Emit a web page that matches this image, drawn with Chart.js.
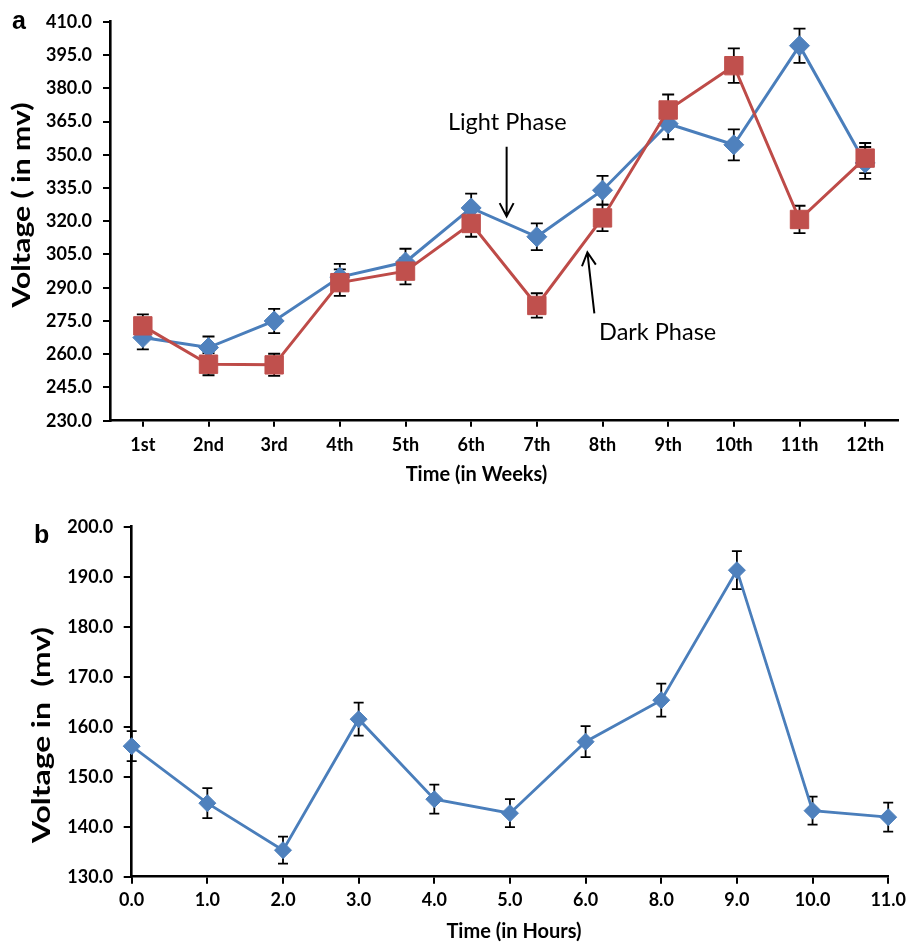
<!DOCTYPE html>
<html>
<head>
<meta charset="utf-8">
<script src="https://cdn.jsdelivr.net/npm/chart.js@4.4.1/dist/chart.umd.min.js"></script>
<style>
  html, body { margin: 0; padding: 0; background: #fff; }
  body { width: 912px; height: 942px; position: relative; overflow: hidden; }
  canvas { position: absolute; left: 0; }
  #c1 { top: 0; }
  #c2 { top: 490px; }
</style>
</head>
<body>
<canvas id="c1" width="912" height="490"></canvas>
<canvas id="c2" width="912" height="452"></canvas>
<script>
// ---------- Data (panel a) ----------
const weeks = ['1st', '2nd', '3rd', '4th', '5th', '6th', '7th', '8th', '9th', '10th', '11th', '12th'];
const lightPhase = [267.5, 263.0, 275.0, 294.8, 301.6, 326.0, 313.0, 334.0, 364.0, 354.5, 399.2, 346.3];
const lightErr   = [5.3, 5.0, 5.5, 6.0, 6.0, 6.5, 6.0, 6.5, 7.0, 7.0, 7.7, 7.2];
const darkPhase  = [272.8, 255.5, 255.2, 292.3, 297.5, 319.0, 282.0, 321.5, 370.2, 390.2, 320.8, 348.5];
const darkErr    = [5.2, 5.0, 5.0, 6.0, 6.0, 6.0, 5.5, 6.0, 7.0, 7.8, 6.2, 6.8];
const weekTicks  = { min: 230, max: 410, step: 15 };

// ---------- Data (panel b) ----------
const hours = ['0.0', '1.0', '2.0', '3.0', '4.0', '5.0', '6.0', '8.0', '9.0', '10.0', '11.0'];
const hourly    = [156.1, 144.7, 135.3, 161.5, 145.5, 142.7, 157.0, 165.3, 191.3, 143.2, 141.9];
const hourlyErr = [3.0, 3.0, 2.7, 3.3, 2.9, 2.8, 3.1, 3.3, 3.8, 2.8, 2.9];
const hourTicks = { min: 130, max: 200, step: 10 };

// ---------- Styling ----------
const BLUE_LINE = '#4A7EBB', BLUE_FILL = '#4F81BD';
const RED_LINE = '#BE4B48', RED_FILL = '#C0504D';
const TICK_FONT = { family: 'Lato', size: 18, weight: 'bold' };

const errorBars = {
  id: 'errorBars',
  beforeDatasetsDraw(chart, args, opts) {
    const ctx = chart.ctx, ys = chart.scales.y;
    const c = opts.cap || 5;
    chart.data.datasets.forEach((ds, di) => {
      if (!ds.errors) return;
      const meta = chart.getDatasetMeta(di);
      ctx.save();
      ctx.strokeStyle = '#000';
      ctx.lineWidth = opts.width || 1.6;
      meta.data.forEach((pt, i) => {
        const v = ds.data[i], e = ds.errors[i];
        const yt = ys.getPixelForValue(v + e), yb = ys.getPixelForValue(v - e);
        ctx.beginPath();
        ctx.moveTo(pt.x, yt); ctx.lineTo(pt.x, yb);
        ctx.moveTo(pt.x - c, yt); ctx.lineTo(pt.x + c, yt);
        ctx.moveTo(pt.x - c, yb); ctx.lineTo(pt.x + c, yb);
        ctx.stroke();
      });
      ctx.restore();
    });
  }
};

function vText(ctx, text, x, cy, font, len) {
  ctx.save();
  ctx.translate(x, cy);
  ctx.rotate(-Math.PI / 2);
  ctx.font = font;
  const w = ctx.measureText(text).width;
  ctx.scale(len / w, 1);
  ctx.textAlign = 'center';
  ctx.textBaseline = 'alphabetic';
  ctx.fillStyle = '#000';
  ctx.fillText(text, 0, 0);
  ctx.restore();
}

function hText(ctx, text, cx, cy, font, align) {
  ctx.save();
  ctx.font = font;
  ctx.textAlign = align || 'center';
  ctx.textBaseline = 'middle';
  ctx.fillStyle = '#000';
  ctx.fillText(text, cx, cy);
  ctx.restore();
}

function arrow(ctx, x1, y1, x2, y2) {
  const ang = Math.atan2(y2 - y1, x2 - x1);
  const hl = 15, ha = Math.PI / 6.5;
  ctx.save();
  ctx.strokeStyle = '#000';
  ctx.lineWidth = 2;
  ctx.beginPath();
  ctx.moveTo(x1, y1); ctx.lineTo(x2, y2);
  ctx.moveTo(x2 - hl * Math.cos(ang - ha), y2 - hl * Math.sin(ang - ha));
  ctx.lineTo(x2, y2);
  ctx.lineTo(x2 - hl * Math.cos(ang + ha), y2 - hl * Math.sin(ang + ha));
  ctx.stroke();
  ctx.restore();
}

function axisCommon(tickLen, tickPad) {
  return {
    grid: { drawOnChartArea: false, drawTicks: true, tickLength: tickLen, color: '#000', lineWidth: 2 },
    border: { display: true, color: '#000', width: 2.6 },
    ticks: { color: '#000', font: TICK_FONT, padding: tickPad, maxRotation: 0, autoSkip: false }
  };
}

// ---------- Panel a ----------
const panelA = {
  id: 'panelA',
  afterDraw(chart) {
    const ctx = chart.ctx, xs = chart.scales.x, ys = chart.scales.y;
    const X = i => xs.getPixelForValue(0) + i * (xs.getPixelForValue(1) - xs.getPixelForValue(0));
    const Y = v => ys.getPixelForValue(v);
    // annotations anchored in data space
    hText(ctx, 'Light Phase', X(5.55), Y(364.4), '23.5px Lato');
    arrow(ctx, X(5.54), Y(353.6), X(5.54), Y(322.2));
    hText(ctx, 'Dark Phase', X(7.84), Y(270.0), '23.5px Lato');
    arrow(ctx, X(6.876), Y(278.4), X(6.77), Y(306.0));
    // titles
    vText(ctx, 'Voltage ( in mv)', 30, 205, 'bold 25px Lato', 205);
    hText(ctx, 'Time (in Weeks)', 476.5, 475, 'bold 20px Lato');
    ctx.save();
    ctx.font = 'bold 25px "Liberation Sans"';
    ctx.fillStyle = '#000';
    ctx.textBaseline = 'alphabetic';
    ctx.fillText('a', 12, 29);
    ctx.restore();
  }
};

const ax1 = axisCommon(6, 8);
const ay1 = axisCommon(7, 11);

new Chart(document.getElementById('c1'), {
  type: 'line',
  data: {
    labels: weeks,
    datasets: [
      {
        label: 'Light Phase', data: lightPhase, errors: lightErr, order: 1,
        borderColor: BLUE_LINE, borderWidth: 3, backgroundColor: BLUE_FILL,
        pointStyle: 'rectRot', pointRadius: 10, pointBackgroundColor: BLUE_FILL,
        pointBorderColor: BLUE_FILL, pointBorderWidth: 1, tension: 0, fill: false
      },
      {
        label: 'Dark Phase', data: darkPhase, errors: darkErr, order: 0,
        borderColor: RED_LINE, borderWidth: 3, backgroundColor: RED_FILL,
        pointStyle: 'rect', pointRadius: 13, pointBackgroundColor: RED_FILL,
        pointBorderColor: RED_FILL, pointBorderWidth: 1, tension: 0, fill: false
      }
    ]
  },
  options: {
    responsive: false, animation: false, devicePixelRatio: 1,
    layout: { padding: { top: 21.7, left: 0, right: 0, bottom: 0 } },
    plugins: { legend: { display: false }, tooltip: { enabled: false }, title: { display: false },
      errorBars: { cap: 6, width: 1.8 } },
    scales: {
      x: {
        type: 'category', offset: true,
        grid: Object.assign({}, ax1.grid, { offset: false }),
        border: ax1.border, ticks: ax1.ticks,
        afterFit: s => { s.height = 69.3; }
      },
      y: {
        min: weekTicks.min, max: weekTicks.max,
        grid: ay1.grid, border: ay1.border,
        ticks: Object.assign({}, ay1.ticks, { stepSize: weekTicks.step, callback: v => Number(v).toFixed(1) }),
        afterFit: s => { s.width = 110; }
      }
    }
  },
  plugins: [errorBars, panelA]
});

// ---------- Panel b ----------
const panelB = {
  id: 'panelB',
  afterDraw(chart) {
    const ctx = chart.ctx;
    vText(ctx, 'Voltage in  (mv)', 50, 245, 'bold 25px Lato', 216);
    hText(ctx, 'Time (in Hours)', 514, 441.7, 'bold 20px Lato');
    ctx.save();
    ctx.font = 'bold 25px "Liberation Sans"';
    ctx.fillStyle = '#000';
    ctx.textBaseline = 'alphabetic';
    ctx.fillText('b', 34, 53);
    ctx.restore();
  }
};

const ax2 = axisCommon(7, 6);
const ay2 = axisCommon(8, 10.4);

new Chart(document.getElementById('c2'), {
  type: 'line',
  data: {
    labels: hours,
    datasets: [
      {
        label: 'Voltage', data: hourly, errors: hourlyErr,
        borderColor: BLUE_LINE, borderWidth: 2.8, backgroundColor: BLUE_FILL,
        pointStyle: 'rectRot', pointRadius: 8.5, pointBackgroundColor: BLUE_FILL,
        pointBorderColor: BLUE_FILL, pointBorderWidth: 1, tension: 0, fill: false
      }
    ]
  },
  options: {
    responsive: false, animation: false, devicePixelRatio: 1,
    layout: { padding: { top: 36.7, left: 0, right: 20.3, bottom: 0 } },
    plugins: { legend: { display: false }, tooltip: { enabled: false }, title: { display: false },
      errorBars: { cap: 5, width: 1.8 } },
    scales: {
      x: {
        type: 'category', offset: false,
        grid: Object.assign({}, ax2.grid, { offset: false }),
        border: ax2.border, ticks: ax2.ticks,
        afterFit: s => { s.height = 65.3; }
      },
      y: {
        min: hourTicks.min, max: hourTicks.max,
        grid: ay2.grid, border: ay2.border,
        ticks: Object.assign({}, ay2.ticks, { stepSize: hourTicks.step, callback: v => Number(v).toFixed(1) }),
        afterFit: s => { s.width = 131.7; }
      }
    }
  },
  plugins: [errorBars, panelB]
});
</script>
</body>
</html>
